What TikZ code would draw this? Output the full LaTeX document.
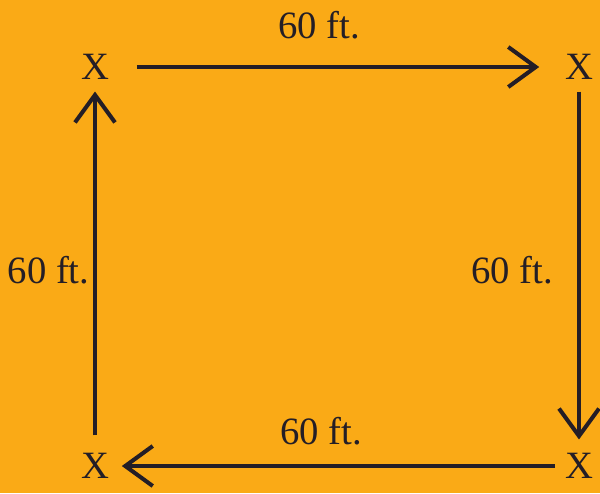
\documentclass[tikz,border=0pt]{standalone}
\usepackage{fontspec}
\setmainfont{Liberation Serif}
\usepackage{xcolor}
\usepackage{tikz}
\usetikzlibrary{arrows.meta, positioning}
\definecolor{myorange}{RGB}{250,170,22}
\definecolor{mydark}{RGB}{36,30,38}
\tikzset{
  spot/.style={inner sep=0pt, font=\fontsize{22}{26}\selectfont, text=mydark},
  dist/.style={inner sep=0pt, font=\fontsize{22}{26}\selectfont, text=mydark},
  arrow/.style={-{Straight Barb[length=5.5mm, width=8mm]}, line width=2.3pt, color=mydark}
}
\begin{document}
\begin{tikzpicture}
  \fill[myorange] (0,0) rectangle (12,9.86);
  \useasboundingbox (0,0) rectangle (12,9.86);

  % Corner marks
  \node[spot] (tl) at (1.9,8.52) {X};
  \node[spot] (tr) at (11.58,8.52) {X};
  \node[spot] (br) at (11.58,0.54) {X};
  \node[spot] (bl) at (1.9,0.54) {X};

  % Distance labels
  \node[dist] (dtop) at (6.38,9.36) {60 ft.};
  \node[dist] (dright) at (10.24,4.46) {60 ft.};
  \node[dist] (dbottom) at (6.42,1.24) {60 ft.};
  \node[dist] (dleft) at (0.97,4.46) {60 ft.};

  % Paths
  \draw[arrow, shorten <=0.55cm, shorten >=0.51cm] (tl) -- (tr);
  \draw[arrow, shorten <=0.23cm, shorten >=0.27cm] (tr) -- (br);
  \draw[arrow, shorten <=0.19cm, shorten >=0.25cm] (br) -- (bl);
  \draw[arrow, shorten <=0.35cm, shorten >=0.23cm] (bl) -- (tl);
\end{tikzpicture}
\end{document}
